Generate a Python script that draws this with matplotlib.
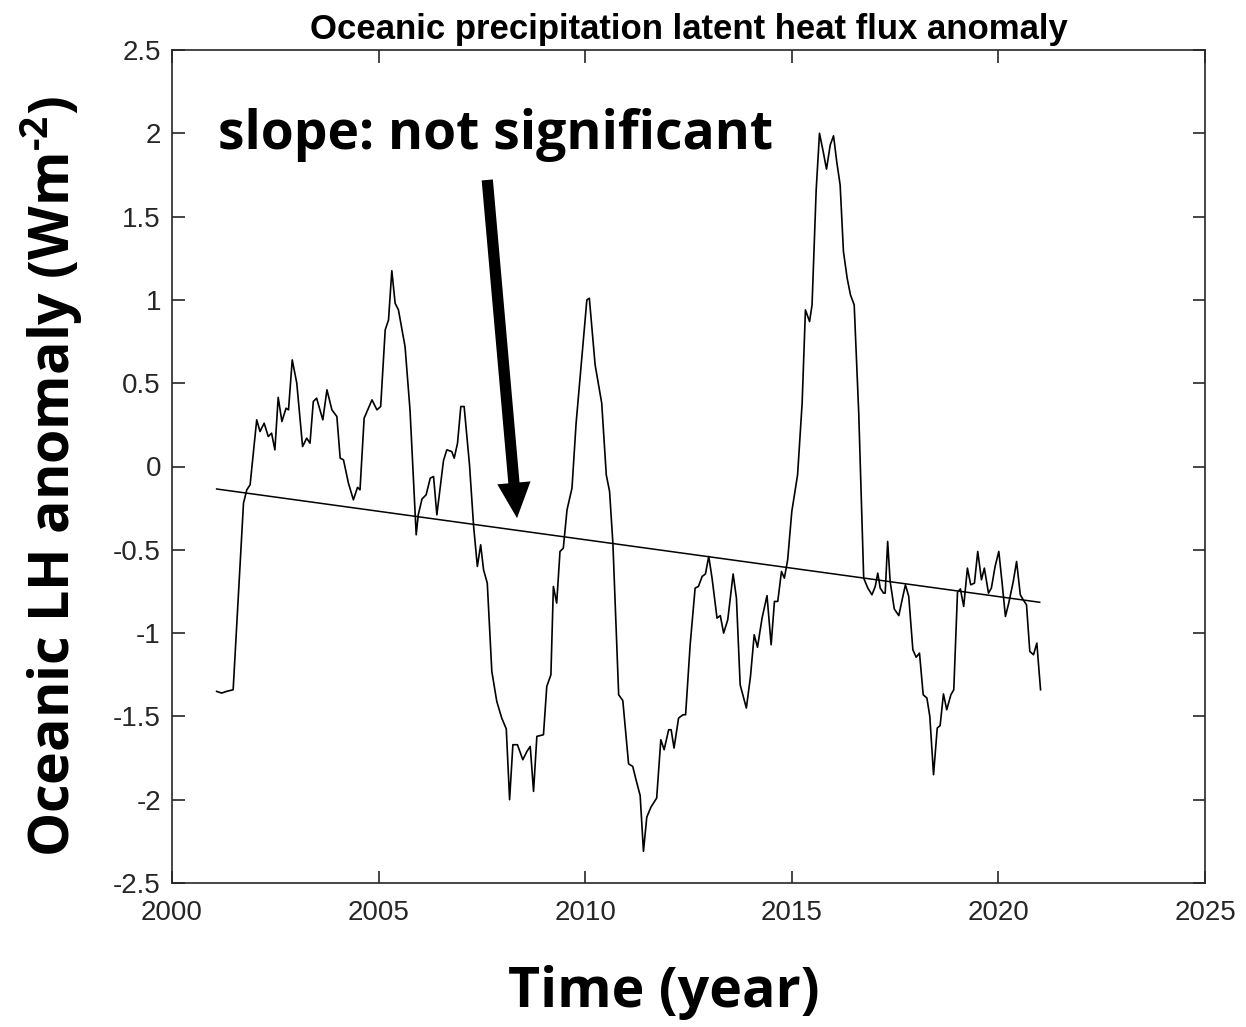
import numpy as np
import matplotlib.pyplot as plt

# time (decimal year) and latent heat anomaly (W m^-2)
years = [2001.08, 2001.20, 2001.32, 2001.48, 2001.73, 2001.81, 2001.89, 2002.05, 2002.13, 2002.23,
         2002.33, 2002.41, 2002.49, 2002.57, 2002.66, 2002.76, 2002.82, 2002.91, 2003.02, 2003.16,
         2003.26, 2003.34, 2003.42, 2003.50, 2003.65, 2003.75, 2003.87, 2003.99, 2004.07, 2004.15,
         2004.27, 2004.39, 2004.49, 2004.55, 2004.65, 2004.84, 2004.96, 2005.05, 2005.16, 2005.24,
         2005.32, 2005.40, 2005.48, 2005.64, 2005.76, 2005.91, 2005.96, 2006.05, 2006.15, 2006.25,
         2006.33, 2006.41, 2006.57, 2006.65, 2006.77, 2006.83, 2006.91, 2006.99, 2007.07, 2007.20,
         2007.30, 2007.39, 2007.47, 2007.54, 2007.63, 2007.74, 2007.86, 2007.98, 2008.09, 2008.17,
         2008.25, 2008.36, 2008.49, 2008.59, 2008.67, 2008.75, 2008.83, 2008.99, 2009.07, 2009.17,
         2009.23, 2009.31, 2009.39, 2009.47, 2009.56, 2009.68, 2009.78, 2009.92, 2010.04, 2010.10,
         2010.24, 2010.40, 2010.51, 2010.59, 2010.67, 2010.81, 2010.91, 2011.05, 2011.15, 2011.23,
         2011.33, 2011.41, 2011.49, 2011.59, 2011.73, 2011.83, 2011.91, 2012.02, 2012.08, 2012.15,
         2012.26, 2012.37, 2012.43, 2012.54, 2012.66, 2012.74, 2012.83, 2012.91, 2012.99, 2013.07,
         2013.19, 2013.27, 2013.35, 2013.45, 2013.58, 2013.66, 2013.75, 2013.90, 2014.00, 2014.09,
         2014.17, 2014.28, 2014.40, 2014.50, 2014.58, 2014.66, 2014.75, 2014.82, 2014.90, 2015.00,
         2015.14, 2015.25, 2015.33, 2015.43, 2015.49, 2015.59, 2015.67, 2015.76, 2015.84, 2015.93,
         2016.01, 2016.09, 2016.17, 2016.25, 2016.34, 2016.42, 2016.51, 2016.62, 2016.74, 2016.84,
         2016.94, 2017.02, 2017.08, 2017.14, 2017.22, 2017.26, 2017.32, 2017.38, 2017.48, 2017.59,
         2017.67, 2017.75, 2017.83, 2017.93, 2018.01, 2018.09, 2018.18, 2018.27, 2018.34, 2018.43,
         2018.52, 2018.59, 2018.67, 2018.75, 2018.85, 2018.92, 2019.01, 2019.08, 2019.16, 2019.25,
         2019.33, 2019.42, 2019.50, 2019.59, 2019.66, 2019.76, 2019.83, 2019.92, 2020.01, 2020.09,
         2020.17, 2020.25, 2020.36, 2020.44, 2020.53, 2020.60, 2020.68, 2020.76, 2020.85, 2020.93,
         2021.02]
lh_anom = [-1.35, -1.36, -1.35, -1.34, -0.22, -0.14, -0.11, 0.28, 0.21, 0.26,
           0.18, 0.20, 0.10, 0.415, 0.27, 0.35, 0.34, 0.64, 0.50, 0.12,
           0.17, 0.14, 0.39, 0.41, 0.28, 0.46, 0.34, 0.30, 0.05, 0.04,
           -0.10, -0.20, -0.125, -0.14, 0.29, 0.40, 0.34, 0.36, 0.82, 0.88,
           1.175, 0.98, 0.94, 0.72, 0.34, -0.41, -0.29, -0.195, -0.17, -0.07,
           -0.06, -0.29, 0.035, 0.10, 0.09, 0.05, 0.14, 0.36, 0.36, 0.01,
           -0.36, -0.60, -0.47, -0.62, -0.70, -1.23, -1.41, -1.51, -1.575, -2.0,
           -1.67, -1.67, -1.76, -1.71, -1.68, -1.95, -1.62, -1.61, -1.32, -1.25,
           -0.72, -0.82, -0.51, -0.49, -0.26, -0.13, 0.26, 0.655, 1.00, 1.01,
           0.61, 0.38, -0.05, -0.15, -0.46, -1.37, -1.405, -1.785, -1.80, -1.88,
           -1.975, -2.31, -2.105, -2.045, -1.99, -1.64, -1.70, -1.58, -1.58, -1.69,
           -1.51, -1.49, -1.49, -1.07, -0.73, -0.72, -0.66, -0.645, -0.54, -0.67,
           -0.91, -0.895, -1.00, -0.92, -0.645, -0.79, -1.31, -1.45, -1.26, -1.01,
           -1.085, -0.91, -0.775, -1.07, -0.81, -0.81, -0.63, -0.67, -0.56, -0.27,
           -0.05, 0.38, 0.94, 0.87, 0.97, 1.66, 2.00, 1.89, 1.785, 1.93,
           1.985, 1.825, 1.69, 1.29, 1.13, 1.03, 0.97, 0.32, -0.67, -0.73,
           -0.77, -0.72, -0.64, -0.73, -0.76, -0.76, -0.45, -0.69, -0.855, -0.895,
           -0.80, -0.71, -0.78, -1.10, -1.145, -1.12, -1.37, -1.39, -1.50, -1.85,
           -1.57, -1.555, -1.365, -1.46, -1.37, -1.34, -0.755, -0.735, -0.84, -0.61,
           -0.71, -0.70, -0.51, -0.68, -0.61, -0.76, -0.73, -0.60, -0.51, -0.70,
           -0.90, -0.82, -0.69, -0.57, -0.77, -0.80, -0.83, -1.11, -1.13, -1.06,
           -1.34]

# linear trend end points
trend_years = [2001.08, 2021.0]
trend_vals = [-0.135, -0.815]

xticks = [2000, 2005, 2010, 2015, 2020, 2025]
yticks = [-2.5, -2, -1.5, -1, -0.5, 0, 0.5, 1, 1.5, 2, 2.5]
ytick_labels = ['-2.5', '-2', '-1.5', '-1', '-0.5', '0', '0.5', '1', '1.5', '2', '2.5']

plt.rcParams['font.family'] = ['Liberation Sans', 'DejaVu Sans']
plt.rcParams['mathtext.fontset'] = 'custom'
plt.rcParams['mathtext.rm'] = 'Open Sans:bold'
plt.rcParams['mathtext.bf'] = 'Open Sans:bold'
ink = '#262626'

fig = plt.figure(figsize=(12.46, 10.27), dpi=100)
ax = fig.add_axes([172/1246, 1 - 883/1027, (1205 - 172)/1246, (883 - 50)/1027])

ax.plot(years, lh_anom, color='black', lw=1.2)
ax.plot(trend_years, trend_vals, color='black', lw=1.1)

ax.set_xlim(2000, 2025)
ax.set_ylim(-2.5, 2.5)
ax.set_xticks(xticks)
ax.set_xticklabels([str(t) for t in xticks])
ax.set_yticks(yticks)
ax.set_yticklabels(ytick_labels)
ax.tick_params(direction='in', length=9, width=1.2, colors=ink, labelsize=20,
               top=True, right=True)
ax.tick_params(axis='x', pad=12)
ax.tick_params(axis='y', pad=8)
for sp in ax.spines.values():
    sp.set_color(ink)
    sp.set_linewidth(1.2)

ax.set_title('Oceanic precipitation latent heat flux anomaly', fontsize=25,
             fontweight='bold', color='black', pad=8)

# annotation
ax.text(2007.82, 1.99, 'slope: not significant', fontsize=38.5, fontweight='bold',
        family='Open Sans', ha='center', va='center')
ax.annotate('', xy=(2008.35, -0.31), xytext=(2007.63, 1.72),
            arrowprops=dict(arrowstyle='simple,head_width=0.8,head_length=0.85,tail_width=0.27',
                            lw=0, fc='black', ec='black', mutation_scale=30,
                            shrinkA=0, shrinkB=0))

fig.text(664/1246, 1 - 993/1027, 'Time (year)', fontsize=40, fontweight='bold',
         family='Open Sans', ha='center', va='center')
fig.text(52/1246, 1 - 476/1027, r'Oceanic LH anomaly (Wm$^{\text{-2}}$)', fontsize=40,
         fontweight='bold', family='Open Sans', rotation=90, ha='center', va='center')

fig.savefig('out.png', dpi=100, facecolor='white')
